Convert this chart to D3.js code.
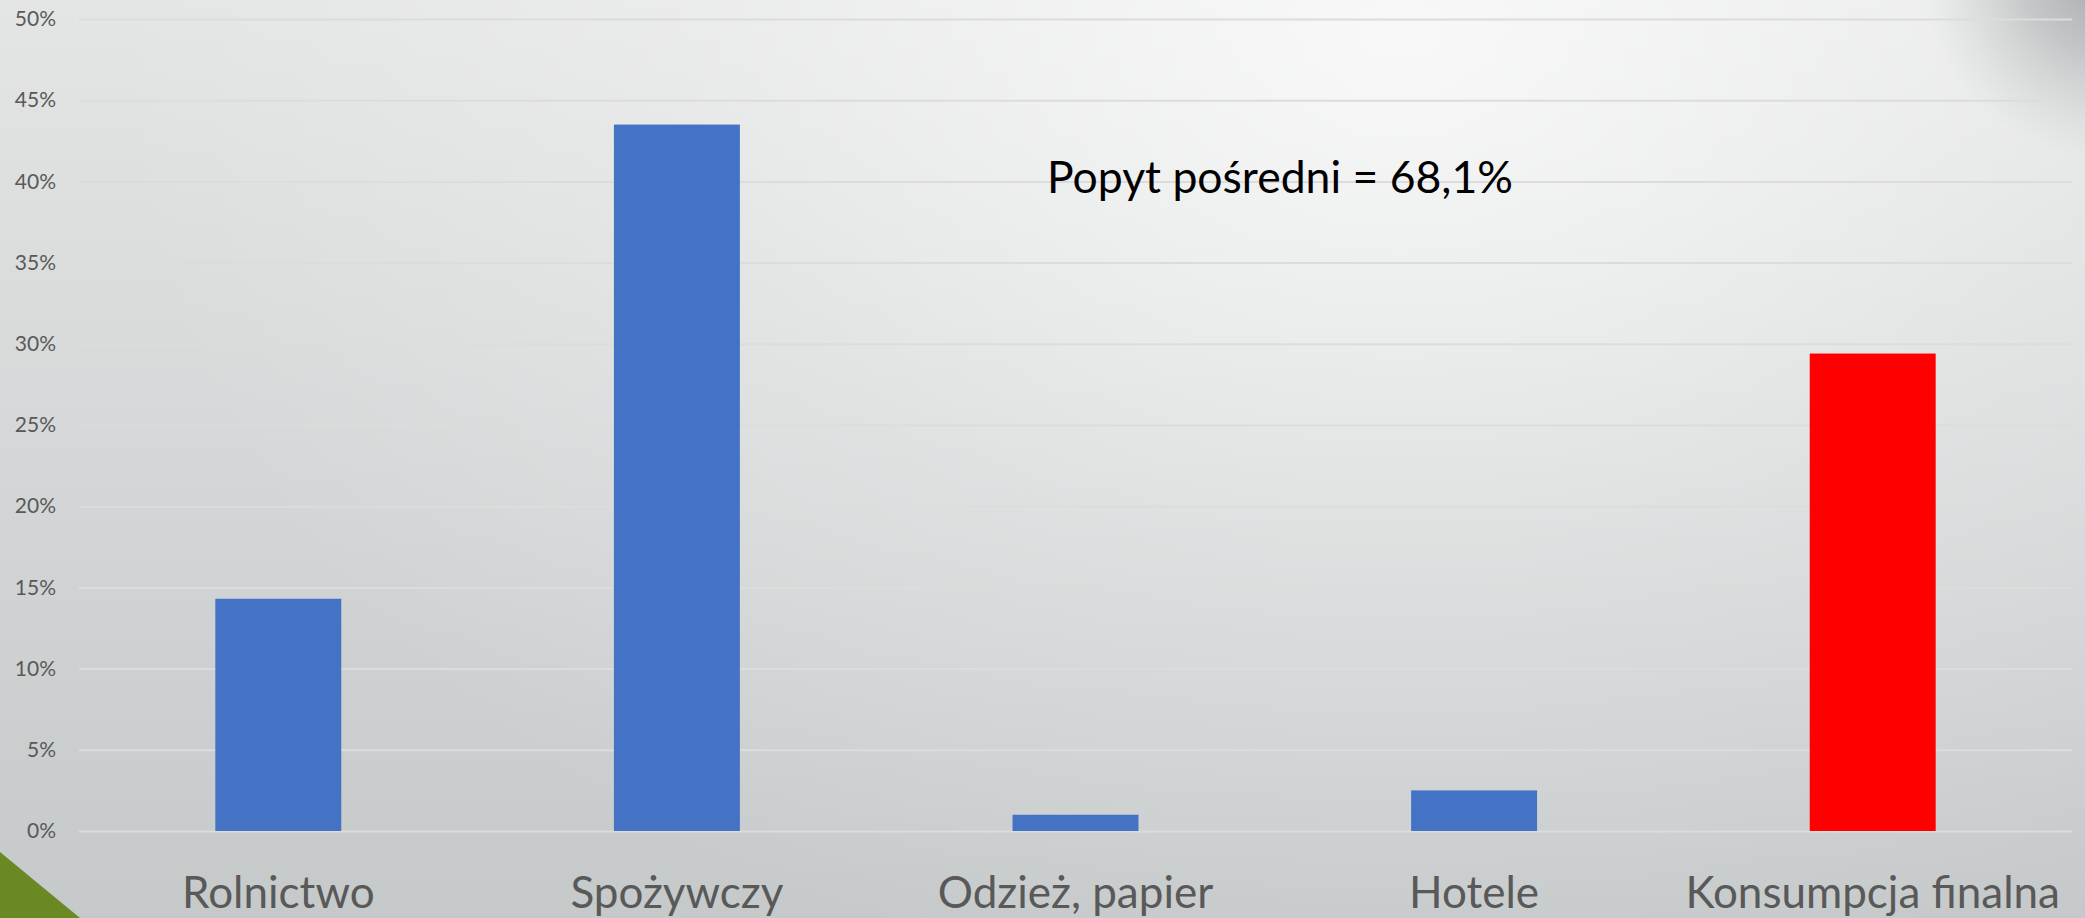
<!DOCTYPE html>
<html>
<head>
<meta charset="utf-8">
<script src="https://cdn.jsdelivr.net/npm/d3@7"></script>
<style>
  html, body { margin: 0; padding: 0; overflow: hidden; background: #d8dadb; }
  svg { display: block; }
</style>
</head>
<body>
<svg id="chart" width="2085" height="918"></svg>
<script>
// ---- data ----
const categories = ["Rolnictwo", "Spożywczy", "Odzież, papier", "Hotele", "Konsumpcja finalna"];
const values = [14.3, 43.5, 1.0, 2.5, 29.4];
const barColors = ["#4472C4", "#4472C4", "#4472C4", "#4472C4", "#FF0000"];
const yTickValues = [0, 5, 10, 15, 20, 25, 30, 35, 40, 45, 50];
const yTickLabels = ["0%", "5%", "10%", "15%", "20%", "25%", "30%", "35%", "40%", "45%", "50%"];
const annotationText = "Popyt pośredni = 68,1%";

// ---- layout ----
const W = 2085, H = 918;
const plotLeft = 79, plotRight = 2072, plotTop = 19, plotBottom = 831;

const svg = d3.select("#chart");
const defs = svg.append("defs");

const lg = defs.append("linearGradient").attr("id", "bgLin").attr("x1", 0).attr("y1", 0).attr("x2", 0).attr("y2", 1);
lg.append("stop").attr("offset", "0%").attr("stop-color", "#e4e5e5");
lg.append("stop").attr("offset", "100%").attr("stop-color", "#c5c9ca");

const rg = defs.append("radialGradient").attr("id", "bgRad")
  .attr("gradientUnits", "userSpaceOnUse")
  .attr("cx", 1400).attr("cy", 40).attr("r", 1300)
  .attr("gradientTransform", "translate(1400,40) scale(1,0.75) translate(-1400,-40)");
rg.append("stop").attr("offset", "0%").attr("stop-color", "#ffffff").attr("stop-opacity", 0.75);
rg.append("stop").attr("offset", "55%").attr("stop-color", "#ffffff").attr("stop-opacity", 0.25);
rg.append("stop").attr("offset", "100%").attr("stop-color", "#ffffff").attr("stop-opacity", 0);

const sh = defs.append("radialGradient").attr("id", "cornerShadow")
  .attr("gradientUnits", "userSpaceOnUse")
  .attr("cx", 2110).attr("cy", -30).attr("r", 190);
sh.append("stop").attr("offset", "0%").attr("stop-color", "#9a9e9f").attr("stop-opacity", 0.9);
sh.append("stop").attr("offset", "45%").attr("stop-color", "#a9adae").attr("stop-opacity", 0.6);
sh.append("stop").attr("offset", "100%").attr("stop-color", "#c0c3c3").attr("stop-opacity", 0);

svg.append("rect").attr("width", W).attr("height", H).attr("fill", "url(#bgLin)");
svg.append("rect").attr("width", W).attr("height", H).attr("fill", "url(#bgRad)");
svg.append("rect").attr("x", 1850).attr("y", 0).attr("width", 235).attr("height", 200).attr("fill", "url(#cornerShadow)");

// green corner triangle
svg.append("path").attr("d", `M0,852 L80,${H} L0,${H} Z`).attr("fill", "#6a8925");

// ---- scales ----
const x = d3.scaleBand().domain(categories).range([plotLeft, plotRight])
  .paddingInner(0.684).paddingOuter(0.342);
const y = d3.scaleLinear().domain([0, 50]).range([plotBottom, plotTop]);

// ---- y axis with gridlines ----
const yAxis = d3.axisLeft(y)
  .tickValues(yTickValues)
  .tickFormat((d, i) => yTickLabels[i])
  .tickSize(-(plotRight - plotLeft))
  .tickPadding(23);

const gy = svg.append("g").attr("transform", `translate(${plotLeft},0)`).call(yAxis);
gy.select(".domain").remove();
gy.selectAll(".tick line").attr("stroke", "#dcdcdc").attr("stroke-width", 2);
gy.selectAll(".tick text")
  .attr("fill", "#595959")
  .style("font-family", "Lato, 'Open Sans', sans-serif")
  .style("font-size", "21px");

// ---- bars ----
svg.append("g").selectAll("rect")
  .data(values)
  .join("rect")
  .attr("x", (d, i) => x(categories[i]))
  .attr("width", x.bandwidth())
  .attr("y", d => y(d))
  .attr("height", d => y(0) - y(d))
  .attr("fill", (d, i) => barColors[i]);

// ---- category labels ----
const xAxis = d3.axisBottom(x).tickSize(0).tickPadding(0);
const gx = svg.append("g").attr("transform", `translate(0,${plotBottom})`).call(xAxis);
gx.select(".domain").remove();
gx.selectAll(".tick text")
  .attr("y", 77)
  .attr("dy", 0)
  .attr("fill", "#595959")
  .style("font-family", "Lato, 'Open Sans', sans-serif")
  .style("font-size", "44px");

// ---- annotation ----
svg.append("text")
  .attr("x", 1047)
  .attr("y", 193)
  .attr("fill", "#000000")
  .style("font-family", "Lato, 'Open Sans', sans-serif")
  .style("font-size", "44.5px")
  .text(annotationText);
</script>
</body>
</html>
